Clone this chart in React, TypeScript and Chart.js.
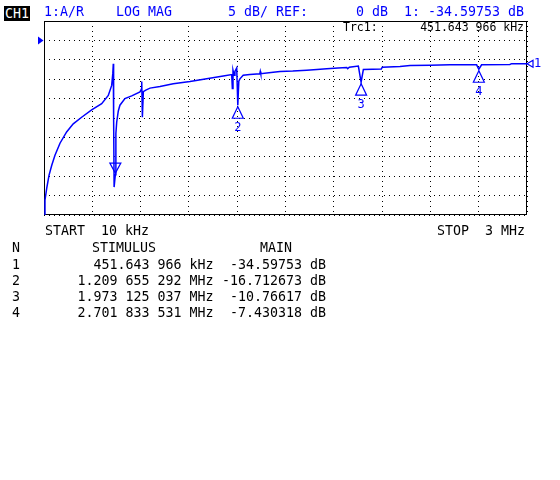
import { useEffect, useRef } from 'react';
import { Chart, registerables } from 'chart.js';

Chart.register(...registerables);

const BLUE = '#0000ff';
const MONO = '"DejaVu Sans Mono", monospace';

// sweep / scale settings (MHz, dB)
const startFreq = 0.01;
const stopFreq = 3;
const refLevel = 0;
const yTop = 5;
const yBottom = -45;
const dbPerDiv = 5;

const traceFreq = [
  0.01, 0.016, 0.027, 0.041, 0.058, 0.078, 0.109, 0.15, 0.191, 0.243,
  0.305, 0.367, 0.408, 0.429, 0.436, 0.439, 0.441, 0.444, 0.4516, 0.455,
  0.46, 0.47, 0.48, 0.511, 0.553, 0.604, 0.612, 0.615, 0.619, 0.625,
  0.64, 0.666, 0.728, 0.81, 0.914, 1.017, 1.12, 1.172, 1.176, 1.18,
  1.187, 1.192, 1.203, 1.2097, 1.216, 1.223, 1.243, 1.284, 1.346, 1.349,
  1.352, 1.429, 1.471, 1.55, 1.636, 1.7, 1.76, 1.83, 1.884, 1.89,
  1.9, 1.956, 1.973, 1.987, 2.098, 2.104, 2.214, 2.276, 2.4, 2.523,
  2.688, 2.7018, 2.719, 2.894, 2.905, 3.0,
];
const traceDb = [
  -47, -41.2, -38.1, -34.8, -32.2, -29.6, -26.5, -23.6, -21.5, -19.8,
  -17.9, -16.3, -14.2, -11.6, -8.5, -6.0, -19.8, -37.8, -34.6, -24.0,
  -21.1, -18.2, -16.7, -15.0, -14.3, -13.3, -12.6, -10.6, -19.8, -13.2,
  -12.8, -12.3, -11.9, -11.2, -10.6, -9.9, -9.2, -8.8, -12.4, -7.7,
  -9.0, -8.0, -7.1, -16.71, -10.5, -9.9, -9.0, -8.8, -8.6, -8.0,
  -8.6, -8.2, -8.0, -7.9, -7.7, -7.5, -7.3, -7.1, -7.0, -7.3,
  -6.9, -6.6, -10.77, -7.5, -7.4, -6.9, -6.7, -6.5, -6.4, -6.3,
  -6.3, -7.43, -6.3, -6.2, -6.0, -6.0,
];

// markers
const markerNo = ['1', '2', '3', '4'];
const markerFreq = [0.451643966, 1.209655292, 1.973125037, 2.701833531];
const markerDb = [-34.59753, -16.712673, -10.76617, -7.430318];
const markerStimulus = ['451.643 966 kHz', '1.209 655 292 MHz', '1.973 125 037 MHz', '2.701 833 531 MHz'];
const markerMain = ['-34.59753 dB', '-16.712673 dB', '-10.76617 dB', '-7.430318 dB'];

const analyzerPlugin = {
  id: 'analyzer',
  beforeDatasetsDraw(chart: any) {
    const { ctx, chartArea: a } = chart;
    ctx.save();
    ctx.strokeStyle = '#000';
    ctx.lineWidth = 1;
    const l = Math.round(a.left) + 0.5;
    const t = Math.round(a.top) + 0.5;
    ctx.strokeRect(l, t, Math.round(a.right) - Math.round(a.left) - 1, Math.round(a.bottom) - Math.round(a.top) - 1);
    ctx.restore();
  },
  afterDatasetsDraw(chart: any) {
    const { ctx, chartArea: a } = chart;
    const x = chart.scales.x;
    const y = chart.scales.y;
    ctx.save();
    ctx.strokeStyle = BLUE;
    ctx.fillStyle = BLUE;
    ctx.lineWidth = 1.2;

    // reference level pointer on the left
    const yr = y.getPixelForValue(refLevel);
    ctx.beginPath();
    ctx.moveTo(a.left - 0.5, yr);
    ctx.lineTo(a.left - 6, yr - 4);
    ctx.lineTo(a.left - 6, yr + 4);
    ctx.closePath();
    ctx.fill();

    // trace end pointer on the right
    const ye = y.getPixelForValue(traceDb[traceDb.length - 1]);
    ctx.beginPath();
    ctx.moveTo(a.right, ye);
    ctx.lineTo(a.right + 6, ye - 3.5);
    ctx.lineTo(a.right + 6, ye + 3.5);
    ctx.closePath();
    ctx.stroke();
    ctx.font = '12px ' + MONO;
    ctx.textBaseline = 'middle';
    ctx.textAlign = 'left';
    ctx.fillText('1', a.right + 7, ye + 0.5);

    // marker symbols
    ctx.textAlign = 'center';
    markerFreq.forEach((f, i) => {
      const px = x.getPixelForValue(f);
      const py = y.getPixelForValue(markerDb[i]);
      ctx.beginPath();
      if (i === 0) {
        // active marker: inverted triangle
        ctx.moveTo(px, py - 1.5);
        ctx.lineTo(px - 5.5, py - 11.5);
        ctx.lineTo(px + 5.5, py - 11.5);
      } else {
        ctx.moveTo(px, py + 1.5);
        ctx.lineTo(px - 5.5, py + 13);
        ctx.lineTo(px + 5.5, py + 13);
      }
      ctx.closePath();
      ctx.stroke();
      if (i > 0) ctx.fillText(markerNo[i], px, py + 23);
    });
    ctx.restore();
  },
};

function Txt({ left, right, top, color = '#000', size = 13.29, lh = 16, children }: any) {
  const style: any = {
    position: 'absolute',
    top,
    color,
    fontSize: size,
    lineHeight: lh + 'px',
    whiteSpace: 'pre',
  };
  if (left !== undefined) style.left = left;
  if (right !== undefined) style.right = 560 - right;
  return <div style={style}>{children}</div>;
}

export default function App() {
  const canvasRef = useRef<HTMLCanvasElement>(null);

  useEffect(() => {
    if (!canvasRef.current) return;
    const chart = new Chart(canvasRef.current, {
      type: 'line',
      data: {
        datasets: [
          {
            data: traceFreq.map((f, i) => ({ x: f, y: traceDb[i] })),
            borderColor: BLUE,
            borderWidth: 1.5,
            pointRadius: 0,
            tension: 0,
            fill: false,
          },
        ],
      },
      options: {
        animation: false,
        responsive: false,
        events: [],
        layout: { padding: { left: 44, right: 33, top: 21, bottom: 265 } },
        plugins: { legend: { display: false }, tooltip: { enabled: false }, title: { display: false } },
        scales: {
          x: {
            type: 'linear',
            min: startFreq,
            max: stopFreq,
            afterBuildTicks: (scale: any) => {
              scale.ticks = Array.from({ length: 11 }, (_, i) => ({ value: startFreq + (i * (stopFreq - startFreq)) / 10 }));
            },
            ticks: { display: false },
            grid: { color: '#000', lineWidth: 1, drawTicks: false },
            border: { display: false, dash: [1, 4] },
          },
          y: {
            min: yBottom,
            max: yTop,
            ticks: { display: false, stepSize: dbPerDiv },
            grid: { color: '#000', lineWidth: 1, drawTicks: false },
            border: { display: false, dash: [1, 4] },
          },
        },
      },
      plugins: [analyzerPlugin],
    } as any);
    return () => chart.destroy();
  }, []);

  return (
    <div
      style={{
        position: 'absolute',
        left: 0,
        top: 0,
        width: 560,
        height: 480,
        background: '#fff',
        fontFamily: MONO,
        overflow: 'hidden',
      }}
    >
      <canvas ref={canvasRef} width={560} height={480} style={{ position: 'absolute', left: 0, top: 0 }} />

      <div
        style={{
          position: 'absolute',
          left: 4,
          top: 6,
          width: 26,
          height: 15,
          background: '#000',
          color: '#fff',
          fontSize: 13.29,
          lineHeight: '15px',
          textAlign: 'center',
        }}
      >
        CH1
      </div>
      <Txt left={44} top={4} color={BLUE}>1:A/R</Txt>
      <Txt left={116} top={4} color={BLUE}>LOG MAG</Txt>
      <Txt left={228} top={4} color={BLUE}>5 dB/ REF:</Txt>
      <Txt left={356} top={4} color={BLUE}>0 dB</Txt>
      <Txt left={404} top={4} color={BLUE}>{'1: ' + markerMain[0]}</Txt>

      <Txt left={343} top={20} size={11.5} lh={14}>Trc1:</Txt>
      <Txt right={524} top={20} size={11.5} lh={14}>{markerStimulus[0]}</Txt>

      <Txt left={45} top={223}>START  10 kHz</Txt>
      <Txt right={525} top={223}>STOP  3 MHz</Txt>

      <Txt left={12} top={240}>N</Txt>
      <Txt left={92} top={240}>STIMULUS</Txt>
      <Txt left={260} top={240}>MAIN</Txt>
      {markerNo.map((n, i) => (
        <div key={n}>
          <Txt left={12} top={257 + 16 * i}>{n}</Txt>
          <Txt right={213.5} top={257 + 16 * i}>{markerStimulus[i]}</Txt>
          <Txt right={326} top={257 + 16 * i}>{markerMain[i]}</Txt>
        </div>
      ))}
    </div>
  );
}
